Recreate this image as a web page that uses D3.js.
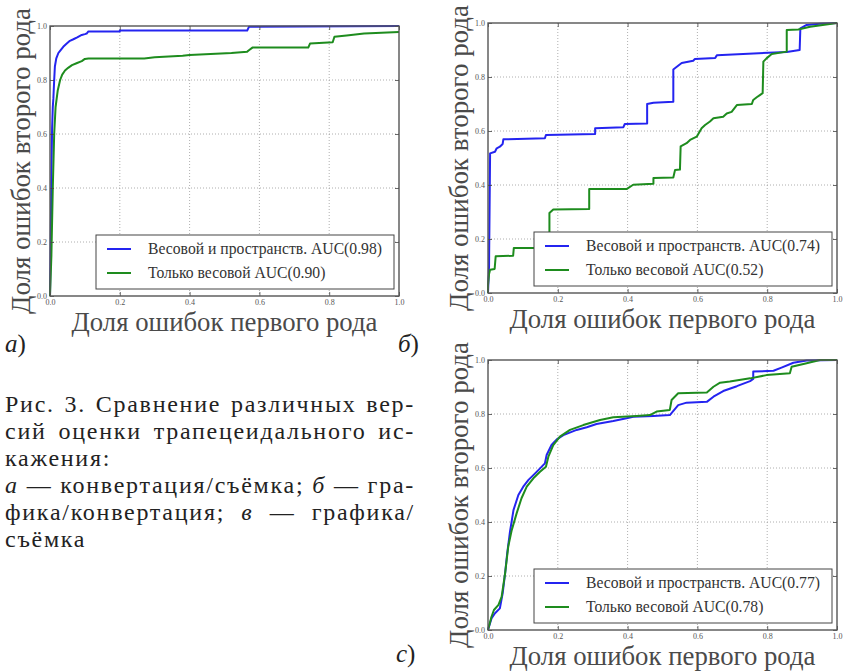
<!DOCTYPE html>
<html>
<head>
<meta charset="utf-8">
<script src="https://cdn.jsdelivr.net/npm/d3@7"></script>
<style>
  html, body { margin: 0; padding: 0; background: #fff; }
  svg { display: block; }
</style>
</head>
<body>
<svg id="fig" width="848" height="672"></svg>
<script>
// ---- ROC data: false positive rate (x) vs true positive rate (y) ----
// а) конвертация/съёмка
const fprA1 = [0, 0.002, 0.004, 0.006, 0.008, 0.0096, 0.012, 0.014, 0.018, 0.024, 0.03, 0.038, 0.048, 0.057, 0.067, 0.078, 0.091, 0.1, 0.105, 0.11, 0.2, 0.2, 0.565, 0.57, 1.0];
const tprA1 = [0, 0.2, 0.45, 0.62, 0.7, 0.73, 0.8, 0.85, 0.88, 0.9, 0.91, 0.923, 0.935, 0.945, 0.951, 0.958, 0.967, 0.97, 0.972, 0.98, 0.98, 0.983, 0.983, 0.997, 1.0];
const fprA2 = [0, 0.004, 0.008, 0.012, 0.016, 0.022, 0.029, 0.035, 0.043, 0.052, 0.063, 0.076, 0.091, 0.1, 0.11, 0.27, 0.3, 0.38, 0.4, 0.52, 0.565, 0.57, 0.58, 0.74, 0.745, 0.81, 0.815, 0.85, 0.9, 0.95, 1.0];
const tprA2 = [0, 0.15, 0.4, 0.6, 0.7, 0.76, 0.8, 0.82, 0.835, 0.845, 0.855, 0.862, 0.87, 0.878, 0.88, 0.88, 0.884, 0.89, 0.893, 0.9, 0.905, 0.91, 0.92, 0.92, 0.935, 0.94, 0.96, 0.965, 0.972, 0.975, 0.978];

// б) графика/конвертация
const fprB1 = [0, 0.003, 0.006, 0.02, 0.025, 0.034, 0.042, 0.044, 0.163, 0.166, 0.307, 0.307, 0.388, 0.392, 0.456, 0.456, 0.474, 0.531, 0.531, 0.541, 0.555, 0.588, 0.593, 0.651, 0.656, 0.856, 0.893, 0.895, 0.913, 0.95, 1.0];
const tprB1 = [0, 0.1, 0.517, 0.523, 0.536, 0.542, 0.552, 0.569, 0.573, 0.585, 0.589, 0.61, 0.614, 0.626, 0.628, 0.70, 0.705, 0.708, 0.828, 0.838, 0.852, 0.860, 0.867, 0.870, 0.881, 0.893, 0.9, 0.98, 0.993, 0.997, 1.0];
const fprB2 = [0, 0, 0.003, 0.006, 0.019, 0.022, 0.072, 0.074, 0.13, 0.176, 0.176, 0.187, 0.29, 0.29, 0.397, 0.416, 0.474, 0.474, 0.531, 0.536, 0.55, 0.552, 0.569, 0.579, 0.598, 0.612, 0.622, 0.636, 0.646, 0.674, 0.684, 0.698, 0.713, 0.756, 0.76, 0.77, 0.779, 0.787, 0.789, 0.798, 0.813, 0.856, 0.856, 0.889, 0.923, 1.0];
const tprB2 = [0, 0.03, 0.07, 0.086, 0.089, 0.136, 0.138, 0.167, 0.167, 0.17, 0.296, 0.309, 0.311, 0.385, 0.385, 0.401, 0.405, 0.426, 0.428, 0.456, 0.457, 0.543, 0.555, 0.567, 0.579, 0.610, 0.622, 0.635, 0.647, 0.653, 0.665, 0.671, 0.696, 0.70, 0.715, 0.725, 0.733, 0.74, 0.857, 0.869, 0.885, 0.894, 0.974, 0.976, 0.986, 1.0];

// в) графика/съёмка
const fprC1 = [0, 0.01, 0.02, 0.034, 0.042, 0.049, 0.055, 0.063, 0.073, 0.087, 0.101, 0.116, 0.135, 0.154, 0.163, 0.168, 0.182, 0.197, 0.216, 0.254, 0.283, 0.311, 0.359, 0.397, 0.416, 0.474, 0.521, 0.545, 0.569, 0.627, 0.646, 0.674, 0.713, 0.751, 0.76, 0.76, 0.818, 0.841, 0.875, 0.913, 1.0];
const tprC1 = [0, 0.043, 0.062, 0.08, 0.136, 0.21, 0.284, 0.364, 0.444, 0.5, 0.531, 0.556, 0.58, 0.605, 0.617, 0.648, 0.685, 0.706, 0.722, 0.741, 0.751, 0.763, 0.774, 0.784, 0.79, 0.793, 0.796, 0.833, 0.842, 0.845, 0.864, 0.885, 0.903, 0.922, 0.93, 0.957, 0.96, 0.972, 0.99, 0.998, 1.0];
const fprC2 = [0, 0.01, 0.017, 0.03, 0.039, 0.049, 0.058, 0.068, 0.082, 0.096, 0.111, 0.13, 0.149, 0.166, 0.173, 0.187, 0.206, 0.235, 0.273, 0.321, 0.359, 0.426, 0.464, 0.483, 0.521, 0.526, 0.545, 0.627, 0.646, 0.665, 0.693, 0.751, 0.798, 0.865, 0.87, 0.913, 0.951, 1.0];
const tprC2 = [0, 0.049, 0.074, 0.093, 0.123, 0.21, 0.309, 0.37, 0.432, 0.488, 0.531, 0.562, 0.586, 0.605, 0.642, 0.685, 0.716, 0.741, 0.759, 0.778, 0.788, 0.793, 0.796, 0.809, 0.815, 0.852, 0.877, 0.88, 0.901, 0.916, 0.92, 0.932, 0.944, 0.951, 0.975, 0.988, 1.0, 1.0];

// Legend entries (AUC values)
const seriesNames = ["Весовой и пространств.", "Только весовой"];
const aucA = [0.98, 0.90];
const aucB = [0.74, 0.52];
const aucC = [0.77, 0.78];

// Axis ticks and labels
const tickValues = [0, 0.2, 0.4, 0.6, 0.8, 1.0];
const xLabel = "Доля ошибок первого рода";
const yLabel = "Доля ошибок второго рода";
const panelLetters = ["а", "б", "с"];

const colors = ["#2424f0", "#1e8c1e"];
const SERIF = "'Liberation Serif', 'Times New Roman', 'DejaVu Serif', serif";

const svg = d3.select("#fig").attr("font-family", SERIF);

// scale a text's font size so that it spans the given width
function fitWidth(sel, width) {
  const fs = +sel.attr("font-size");
  const len = sel.node().getComputedTextLength();
  if (len > 0) sel.attr("font-size", (fs * width / len).toFixed(2));
  return sel;
}

const panels = [
  { box: [50, 399, 26, 296], series: [[fprA1, tprA1], [fprA2, tprA2]], auc: aucA },
  { box: [488, 837, 23, 293], series: [[fprB1, tprB1], [fprB2, tprB2]], auc: aucB },
  { box: [488, 837, 360, 630], series: [[fprC1, tprC1], [fprC2, tprC2]], auc: aucC }
];

const fmt = d3.format(".1f");

panels.forEach((p) => {
  const [x0, x1, y0, y1] = p.box;
  const x = d3.scaleLinear().domain([0, 1]).range([x0, x1]);
  const y = d3.scaleLinear().domain([0, 1]).range([y1, y0]);
  const g = svg.append("g");

  // dotted grid
  g.append("g").selectAll("line").data(tickValues.slice(1, -1)).join("line")
    .attr("x1", d => x(d)).attr("x2", d => x(d)).attr("y1", y0).attr("y2", y1)
    .attr("stroke", "#9a9a9a").attr("stroke-width", 0.8).attr("stroke-dasharray", "1,2");
  g.append("g").selectAll("line").data(tickValues.slice(1, -1)).join("line")
    .attr("y1", d => y(d)).attr("y2", d => y(d)).attr("x1", x0).attr("x2", x1)
    .attr("stroke", "#9a9a9a").attr("stroke-width", 0.8).attr("stroke-dasharray", "1,2");

  // curves
  const line = d3.line().x(d => x(d[0])).y(d => y(d[1]));
  p.series.forEach((s, i) => {
    const pts = s[0].map((v, k) => [v, s[1][k]]);
    g.append("path").datum(pts).attr("d", line)
      .attr("fill", "none").attr("stroke", colors[i]).attr("stroke-width", 2)
      .attr("stroke-linejoin", "round");
  });

  // axes: labelled bottom/left, tick-only top/right, ticks pointing inward
  const axStyle = sel => {
    sel.attr("font-family", SERIF);
    sel.select(".domain").remove();
    sel.selectAll(".tick line").attr("stroke", "#444").attr("stroke-width", 0.8);
    sel.selectAll(".tick text").attr("fill", "#555").attr("font-size", 8);
  };
  g.append("g").attr("transform", `translate(0,${y1})`)
    .call(d3.axisBottom(x).tickValues(tickValues).tickFormat(fmt).tickSize(-4).tickPadding(3))
    .call(axStyle);
  g.append("g").attr("transform", `translate(${x0},0)`)
    .call(d3.axisLeft(y).tickValues(tickValues).tickFormat(fmt).tickSize(-4).tickPadding(3))
    .call(axStyle);
  g.append("g").attr("transform", `translate(0,${y0})`)
    .call(d3.axisTop(x).tickValues(tickValues).tickFormat("").tickSize(-4))
    .call(axStyle);
  g.append("g").attr("transform", `translate(${x1},0)`)
    .call(d3.axisRight(y).tickValues(tickValues).tickFormat("").tickSize(-4))
    .call(axStyle);

  // frame
  g.append("rect").attr("x", x0).attr("y", y0).attr("width", x1 - x0).attr("height", y1 - y0)
    .attr("fill", "none").attr("stroke", "#555").attr("stroke-width", 1.4);

  // legend (lower right)
  const lw = 298, lh = 54;
  const lx = x1 - 5 - lw, ly = y1 - 7 - lh;
  const lg = g.append("g").attr("transform", `translate(${lx},${ly})`);
  lg.append("rect").attr("width", lw).attr("height", lh)
    .attr("fill", "#fff").attr("stroke", "#444").attr("stroke-width", 1);
  let legendSize = null;
  seriesNames.forEach((name, i) => {
    const cy = 14 + i * 24;
    lg.append("line").attr("x1", 11).attr("x2", 35).attr("y1", cy).attr("y2", cy)
      .attr("stroke", colors[i]).attr("stroke-width", 2);
    const t = lg.append("text").attr("x", 52).attr("y", cy + 5)
      .attr("fill", "#333").attr("font-size", 15)
      .text(`${name} AUC(${p.auc[i].toFixed(2)})`);
    if (i === 0) { fitWidth(t, 234); legendSize = t.attr("font-size"); }
    else t.attr("font-size", legendSize);
  });

  // axis titles
  const xt = g.append("text").attr("x", (x0 + x1) / 2).attr("y", y1 + 35)
    .attr("text-anchor", "middle").attr("fill", "#4a4a4a").attr("font-size", 26)
    .text(xLabel);
  fitWidth(xt, 306);
  const yt = g.append("text")
    .attr("transform", `translate(${x0 - 20},${(y0 + y1) / 2}) rotate(-90)`)
    .attr("text-anchor", "middle").attr("fill", "#4a4a4a").attr("font-size", 26)
    .text(yLabel);
  fitWidth(yt, 306);
});

// panel letters
const letterPos = [[5, 352], [398, 352], [396, 662]];
letterPos.forEach(([lx, ly], i) => {
  const t = svg.append("text").attr("x", lx).attr("y", ly).attr("fill", "#222").attr("font-size", 25);
  t.append("tspan").attr("font-style", "italic").text(panelLetters[i]);
  t.append("tspan").text(")");
});

// figure caption: loosely tracked serif, justified by widening word gaps
const captionLines = [
  [["Рис. 3. Сравнение различных вер-", false]],
  [["сий оценки трапецеидального ис-", false]],
  [["кажения:", false]],
  [["а", true], [" — конвертация/съёмка; ", false], ["б", true], [" — гра-", false]],
  [["фика/конвертация; ", false], ["в", true], [" — графика/", false]],
  [["съёмка", false]]
];
const justified = [true, true, false, true, true, false];
const lineWidth = 410;
const captionSize = 24;
// letter spacing chosen so the first line nearly fills the column
const probe = svg.append("text").attr("font-size", captionSize).text(captionLines[0][0][0]);
const probeLen = probe.node().getComputedTextLength();
probe.remove();
const nChars = captionLines[0][0][0].length;
const tracking = Math.max(0, (lineWidth - 8 - probeLen) / nChars);
captionLines.forEach((parts, i) => {
  const t = svg.append("text").attr("x", 5).attr("y", 412 + i * 27)
    .attr("fill", "#222").attr("font-size", captionSize)
    .attr("letter-spacing", tracking.toFixed(2));
  parts.forEach(([s, it]) => t.append("tspan").attr("font-style", it ? "italic" : "normal").text(s));
  if (justified[i]) {
    const len = t.node().getComputedTextLength();
    const gaps = parts.map(d => d[0]).join("").split(" ").length - 1;
    if (gaps > 0 && len < lineWidth) t.attr("word-spacing", ((lineWidth - len) / gaps).toFixed(2));
  }
});
</script>
</body>
</html>
